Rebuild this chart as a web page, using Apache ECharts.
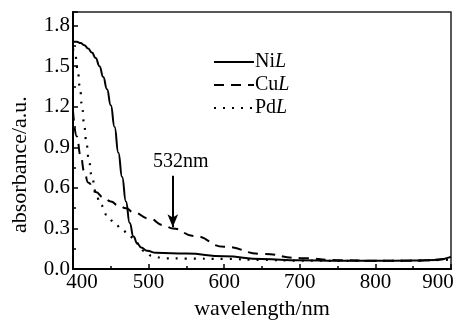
<!DOCTYPE html>
<html>
<head>
<meta charset="utf-8">
<script src="https://cdn.jsdelivr.net/npm/echarts@6/dist/echarts.min.js"></script>
<style>
  html, body { margin: 0; padding: 0; background: #fff; }
  #main { width: 463px; height: 325px; }
</style>
</head>
<body>
<div id="main"></div>
<script>
// absorbance spectra
var niWl = [400, 405, 410, 415, 420, 425, 430, 435, 440, 445, 450, 455, 460, 465, 470, 475, 480, 485, 490, 498, 510, 550, 600, 650, 700, 750, 800, 850, 880, 900];
var niAbs = [1.68, 1.68, 1.67, 1.655, 1.63, 1.60, 1.56, 1.50, 1.42, 1.33, 1.21, 1.05, 0.86, 0.68, 0.50, 0.34, 0.24, 0.19, 0.16, 0.135, 0.12, 0.115, 0.095, 0.074, 0.065, 0.062, 0.062, 0.063, 0.068, 0.09];

var cuWl = [400, 405, 410, 415, 420, 430, 440, 450, 460, 470, 480, 500, 520, 532, 560, 600, 650, 700, 750, 800, 850, 900];
var cuAbs = [1.17, 0.98, 0.84, 0.72, 0.64, 0.57, 0.53, 0.50, 0.47, 0.45, 0.42, 0.375, 0.325, 0.30, 0.245, 0.165, 0.112, 0.082, 0.066, 0.062, 0.062, 0.08];

var pdWl = [400, 403, 406, 409, 412, 415, 418, 421, 425, 430, 436, 445, 455, 465, 475, 485, 495, 505, 520, 550, 600, 650, 700, 800, 900];
var pdAbs = [1.63, 1.58, 1.48, 1.35, 1.20, 1.05, 0.92, 0.80, 0.68, 0.57, 0.48, 0.40, 0.34, 0.29, 0.24, 0.19, 0.13, 0.095, 0.08, 0.078, 0.075, 0.068, 0.062, 0.06, 0.07];

var seriesNames = ['NiL', 'CuL', 'PdL'];

// arrow marking 532 nm
var markWl = 532;
var markFrom = 0.69;
var markTo = 0.31;
var markText = '532nm';

var font = 'Liberation Serif';

function pairs(xs, ys) {
  return xs.map(function (x, i) { return [x, ys[i]]; });
}

var myChart = echarts.init(document.getElementById('main'));

var option = {
  backgroundColor: '#fff',
  animation: false,
  grid: {
    left: 73,
    right: 12,
    top: 12,
    bottom: 51,
    show: true,
    borderColor: '#222',
    borderWidth: 1.5
  },
  legend: {
    orient: 'vertical',
    left: 208,
    top: 47,
    itemWidth: 40,
    itemHeight: 14,
    itemGap: 3,
    selectedMode: false,
    data: seriesNames,
    itemStyle: { opacity: 0 },
    formatter: function (name) {
      return name.slice(0, -1) + '{i|L}';
    },
    textStyle: {
      fontFamily: font,
      fontSize: 20,
      color: '#000',
      padding: [0, 0, 0, -4],
      rich: {
        i: { fontFamily: font, fontSize: 20, fontStyle: 'italic', color: '#000' }
      }
    }
  },
  xAxis: {
    type: 'value',
    min: 400,
    max: 900,
    interval: 100,
    name: 'wavelength/nm',
    nameLocation: 'middle',
    nameGap: 22,
    nameTextStyle: { fontFamily: font, fontSize: 22, color: '#000' },
    axisLine: { lineStyle: { color: '#000', width: 2 } },
    axisTick: { inside: true, length: 5, lineStyle: { color: '#000', width: 1.5 } },
    minorTick: { show: true, splitNumber: 2, length: 3, lineStyle: { color: '#000', width: 1.5 } },
    splitLine: { show: false },
    axisLabel: {
      margin: 3,
      fontFamily: font,
      fontSize: 21,
      color: '#000',
      formatter: function (v) {
        if (v === 400) return '{first|' + v + '}';
        if (v === 900) return '{last|' + v + '}';
        return v;
      },
      rich: {
        first: { fontFamily: font, fontSize: 21, color: '#000', padding: [0, 0, 0, 18] },
        last: { fontFamily: font, fontSize: 21, color: '#000', padding: [0, 26, 0, 0] }
      }
    }
  },
  yAxis: {
    type: 'value',
    min: 0,
    max: 1.9,
    interval: 0.3,
    name: 'absorbance/a.u.',
    nameLocation: 'middle',
    nameGap: 42,
    nameTextStyle: { fontFamily: font, fontSize: 22, color: '#000', padding: [0, 48, 0, 0] },
    axisLine: { show: true, lineStyle: { color: '#000', width: 2 } },
    axisTick: { inside: true, length: 5, lineStyle: { color: '#000', width: 1.5 } },
    minorTick: { show: true, splitNumber: 2, length: 3, lineStyle: { color: '#000', width: 1.5 } },
    splitLine: { show: false },
    axisLabel: {
      margin: 3,
      fontFamily: font,
      fontSize: 21,
      color: '#000',
      showMaxLabel: false,
      formatter: function (v) { return v.toFixed(1); }
    }
  },
  series: [{
    name: seriesNames[0],
    type: 'line',
    data: pairs(niWl, niAbs),
    symbol: 'none',
    smooth: 0.5,
    smoothMonotone: 'x',
    lineStyle: { color: '#000', width: 2, type: 'solid' },
    itemStyle: { color: '#000' }
  }, {
    name: seriesNames[1],
    type: 'line',
    data: pairs(cuWl, cuAbs),
    symbol: 'none',
    smooth: 0.5,
    smoothMonotone: 'x',
    lineStyle: { color: '#000', width: 2, type: [10, 7] },
    itemStyle: { color: '#000' },
    markLine: {
      silent: true,
      symbol: ['none', 'arrow'],
      symbolSize: [8, 13],
      lineStyle: { color: '#000', width: 2, type: 'solid' },
      label: {
        show: true,
        position: 'start',
        distance: 4,
        formatter: markText,
        fontFamily: font,
        fontSize: 20,
        color: '#000',
        offset: [8, 0]
      },
      data: [[{ coord: [markWl, markFrom] }, { coord: [markWl, markTo] }]]
    }
  }, {
    name: seriesNames[2],
    type: 'line',
    data: pairs(pdWl, pdAbs),
    symbol: 'none',
    smooth: 0.5,
    smoothMonotone: 'x',
    lineStyle: { color: '#000', width: 2.2, type: [2, 7] },
    itemStyle: { color: '#000' }
  }]
};

myChart.setOption(option);
</script>
</body>
</html>
